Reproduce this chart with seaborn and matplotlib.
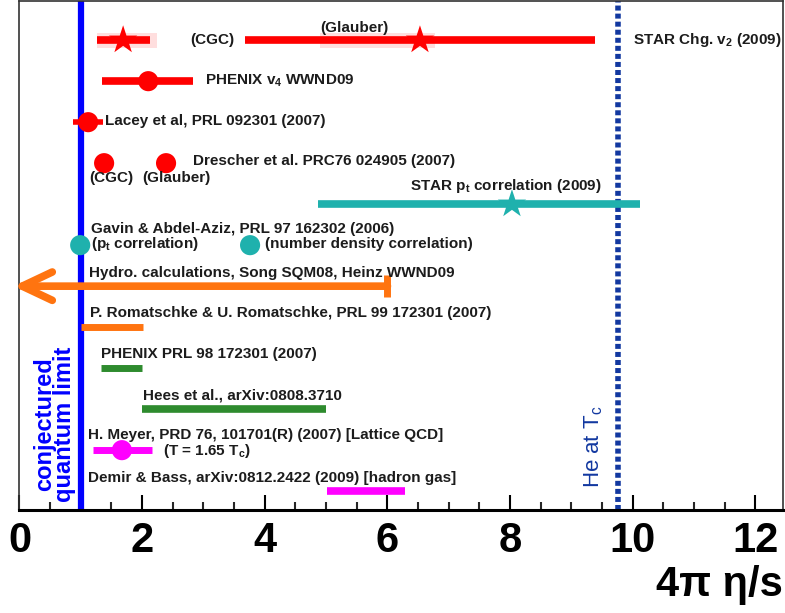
import matplotlib
matplotlib.use("Agg")
import matplotlib.pyplot as plt
import numpy as np
import pandas as pd
import seaborn as sns

# ---- estimates of 4*pi*eta/s -------------------------------------------------
quantum_limit = 1.0
helium_at_tc = 9.76

star_v2_value = [1.69, 6.53]                    # CGC, Glauber
star_v2_stat = [(1.26, 2.13), (3.68, 9.39)]
star_v2_sys = [(1.27, 2.24), (4.90, 6.78)]
phenix_v4_value = 2.10
phenix_v4_range = (1.35, 2.83)
lacey_value = 1.12
lacey_range = (0.87, 1.36)
drescher_value = [1.38, 2.39]                   # CGC, Glauber
star_pt_value = 8.03
star_pt_range = (4.87, 10.12)
gavin_value = [0.99, 3.76]                      # pt corr., number density corr.
hydro_upper = 6.0
romatschke_range = (1.00, 2.01)
phenix_prl_range = (1.33, 2.00)
hees_range = (2.00, 5.00)
meyer_value = 1.67
meyer_range = (1.20, 2.16)
demir_bass_range = (5.02, 6.29)

row_names = ["STAR v2", "PHENIX v4", "Lacey", "Drescher", "STAR pt", "Gavin",
             "Hydro", "Romatschke", "PHENIX PRL", "Hees", "Meyer", "Demir"]
row = {name: i for i, name in enumerate(row_names)}

x_ticks = [0, 2, 4, 6, 8, 10, 12]

RED, TEAL, ORANGE = "#ff0000", "#1fb1ad", "#ff7410"
GREEN, MAGENTA = "#2e8b2e", "#ff00ff"
BLUE, NAVY, INK = "#0000ff", "#1238a0", "#1c1c1c"

sns.set_theme(style="ticks")
plt.rcParams["font.family"] = ["Liberation Sans", "DejaVu Sans"]
plt.rcParams["mathtext.default"] = "regular"

fig = plt.figure(figsize=(7.85, 6.13), dpi=100)
ax = fig.add_axes([0.0248, 0.168, 0.9727, 0.830])

# reference lines
ax.axvline(quantum_limit, color=BLUE, lw=4.5, zorder=2)
ax.axvline(helium_at_tc, color=NAVY, lw=4.0, ls=(0, (0.9, 0.55)), zorder=2)

# systematic boxes for STAR charged v2
for lo, hi in star_v2_sys:
    ax.fill_between([lo, hi], row["STAR v2"] - 0.18, row["STAR v2"] + 0.18,
                    color="#ffdede", lw=0, zorder=2)

# horizontal ranges
bars = [
    (star_v2_stat[0], "STAR v2", RED, 5.5),
    (star_v2_stat[1], "STAR v2", RED, 5.5),
    (phenix_v4_range, "PHENIX v4", RED, 5.5),
    (lacey_range, "Lacey", RED, 4.0),
    (star_pt_range, "STAR pt", TEAL, 5.5),
    (romatschke_range, "Romatschke", ORANGE, 5.0),
    (phenix_prl_range, "PHENIX PRL", GREEN, 5.0),
    (hees_range, "Hees", GREEN, 5.5),
    (meyer_range, "Meyer", MAGENTA, 5.0),
    (demir_bass_range, "Demir", MAGENTA, 5.5),
]
for (lo, hi), name, col, lw in bars:
    ax.hlines(row[name], lo, hi, color=col, lw=lw, zorder=3)

# hydro upper limit: arrow towards small eta/s
y_h = row["Hydro"]
arrow = ax.annotate("", xy=(-0.1, y_h), xytext=(hydro_upper, y_h),
                    arrowprops=dict(arrowstyle="->,head_length=1.8,head_width=0.85",
                                    color=ORANGE, lw=5.5, shrinkA=0, shrinkB=0),
                    annotation_clip=False, zorder=3)
arrow.arrow_patch.set_clip_on(False)
ax.vlines(hydro_upper, y_h - 0.27, y_h + 0.27, color=ORANGE, lw=5, zorder=3)

# central values
stars = pd.DataFrame({
    "x": star_v2_value + [star_pt_value],
    "y": [row["STAR v2"]] * 2 + [row["STAR pt"]],
    "src": ["STAR v2", "STAR v2", "STAR pt"],
})
dots = pd.DataFrame({
    "x": [phenix_v4_value, lacey_value] + drescher_value + gavin_value + [meyer_value],
    "y": [row["PHENIX v4"], row["Lacey"]] + [row["Drescher"]] * 2
         + [row["Gavin"]] * 2 + [row["Meyer"]],
    "src": ["PHENIX v4", "Lacey", "Drescher", "Drescher", "Gavin", "Gavin", "Meyer"],
})
palette = {"STAR v2": RED, "STAR pt": TEAL, "PHENIX v4": RED, "Lacey": RED,
           "Drescher": RED, "Gavin": TEAL, "Meyer": MAGENTA}
sns.scatterplot(data=stars, x="x", y="y", hue="src", palette=palette,
                marker="*", s=460, linewidth=0, legend=False, ax=ax, zorder=4)
sns.scatterplot(data=dots, x="x", y="y", hue="src", palette=palette,
                marker="o", s=210, linewidth=0, legend=False, ax=ax, zorder=4)

# annotations
tkw = dict(fontsize=11, fontweight="bold", color=INK, va="center", ha="left", zorder=5)
labels = [
    (2.78, 0.0, "(CGC)"),
    (4.90, -0.30, "(Glauber)"),
    (10.0, 0.0, "STAR Chg. v$_2$ (2009)"),
    (3.03, 0.98, "PHENIX v$_4$ WWND09"),
    (1.39, 1.97, "Lacey et al, PRL 092301 (2007)"),
    (2.83, 2.95, "Drescher et al. PRC76 024905 (2007)"),
    (1.13, 3.36, "(CGC)"),
    (2.01, 3.36, "(Glauber)"),
    (6.37, 3.56, "STAR p$_t$ correlation (2009)"),
    (1.17, 4.61, "Gavin & Abdel-Aziz, PRL 97 162302 (2006)"),
    (1.17, 4.98, "(p$_t$ correlation)"),
    (4.00, 4.98, "(number density correlation)"),
    (1.13, 5.68, "Hydro. calculations, Song SQM08, Heinz WWND09"),
    (1.15, 6.66, "P. Romatschke & U. Romatschke, PRL 99 172301 (2007)"),
    (1.33, 7.66, "PHENIX PRL 98 172301 (2007)"),
    (2.01, 8.66, "Hees et al., arXiv:0808.3710"),
    (1.12, 9.63, "H. Meyer, PRD 76, 101701(R) (2007) [Lattice QCD]"),
    (2.34, 10.02, "(T = 1.65 T$_c$)"),
    (1.12, 10.68, "Demir & Bass, arXiv:0812.2422 (2009) [hadron gas]"),
]
for x, y, s in labels:
    ax.text(x, y, s, **tkw)

ax.text(0.57, 11.27, "conjectured\nquantum limit", rotation=90, ha="center",
        va="bottom", multialignment="center", linespacing=0.85,
        fontsize=17, fontweight="bold", color=BLUE, zorder=5)
ax.text(9.37, 10.93, "He at T$_c$", rotation=90, ha="center", va="bottom",
        fontsize=16, color=NAVY, zorder=5)

# axes
ax.set_xlim(0, 12.45)
ax.set_ylim(11.46, -0.95)
ax.set_xticks(x_ticks)
ax.set_xticklabels([str(t) for t in x_ticks], fontsize=30, fontweight="bold")
ax.set_xticks(np.arange(0, 12.45, 0.5), minor=True)
ax.set_yticks([])
ax.tick_params(axis="x", which="major", direction="in", length=11, width=1.5,
               pad=8, colors="black", top=False)
ax.tick_params(axis="x", which="minor", direction="in", length=5.5, width=1.5,
               top=False)
ax.set_xlabel("")
ax.set_ylabel("")
for side in ["left", "top", "right"]:
    ax.spines[side].set_linewidth(1.2)
    ax.spines[side].set_color("#333333")
ax.spines["bottom"].set_linewidth(2.2)
ax.spines["bottom"].set_color("black")

fig.text(0.997, 1 - 585 / 613, "4π η/s", ha="right", va="center",
         fontsize=30, fontweight="bold", color="black")

fig.savefig("out.png", dpi=100)
